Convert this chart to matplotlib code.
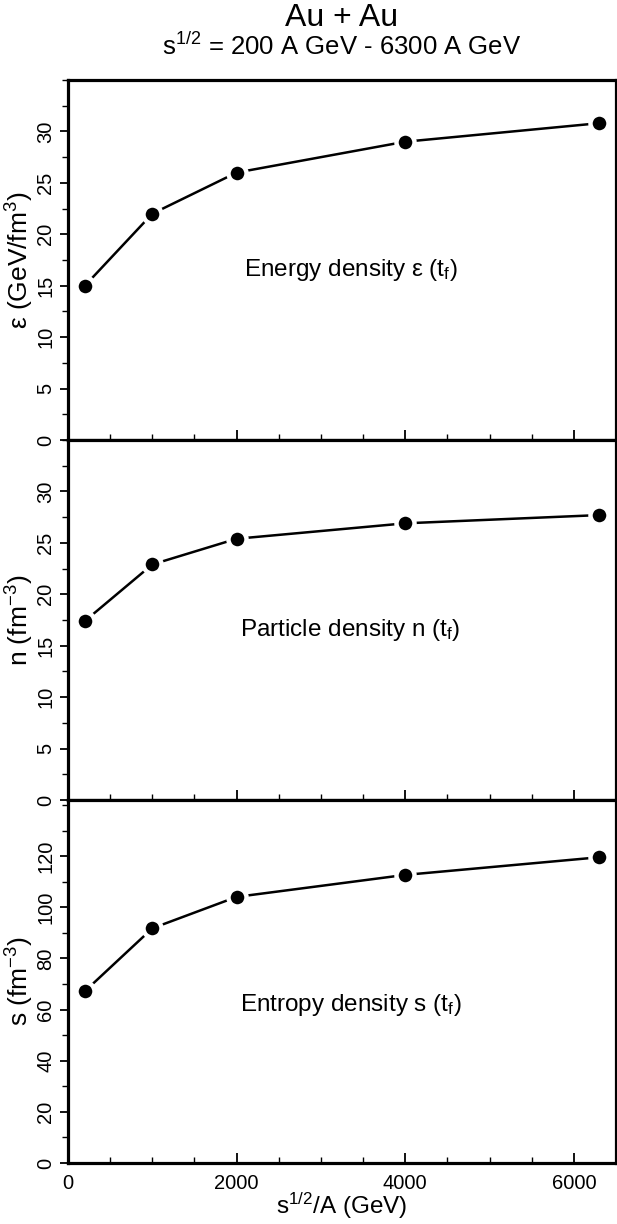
import matplotlib
matplotlib.use("Agg")
import matplotlib.pyplot as plt
from matplotlib.ticker import MultipleLocator, FixedLocator

plt.rcParams['font.family'] = ['Liberation Sans', 'DejaVu Sans']
plt.rcParams['mathtext.fontset'] = 'custom'
plt.rcParams['mathtext.rm'] = 'Liberation Sans'
plt.rcParams['mathtext.it'] = 'Liberation Sans:italic'
plt.rcParams['mathtext.bf'] = 'Liberation Sans:bold'

# ---- data ----
energy = [200, 1000, 2000, 4000, 6300]          # s^1/2 / A (GeV)
eps_vals = [15.0, 22.0, 26.0, 29.0, 30.8]       # GeV/fm^3
n_vals = [17.4, 22.9, 25.4, 26.9, 27.7]         # fm^-3
s_vals = [67.2, 91.8, 104.1, 112.7, 119.6]      # fm^-3

eps_ticks = [0, 5, 10, 15, 20, 25, 30]
n_ticks = [0, 5, 10, 15, 20, 25, 30]
s_ticks = [0, 20, 40, 60, 80, 100, 120]

panels = [
    dict(y=eps_vals, ylim=35, ticks=eps_ticks, minor=2.5,
         ylabel=r'ε (GeV/fm$^3$)', text=r'Energy density ε (t$_\mathrm{f}$)', ty=16.5),
    dict(y=n_vals, ylim=35, ticks=n_ticks, minor=2.5,
         ylabel=r'n (fm$^{-3}$)', text=r'Particle density n (t$_\mathrm{f}$)', ty=16.5),
    dict(y=s_vals, ylim=142, ticks=s_ticks, minor=10,
         ylabel=r's (fm$^{-3}$)', text=r'Entropy density s (t$_\mathrm{f}$)', ty=62),
]

W, H = 617, 1224
fig = plt.figure(figsize=(W / 100, H / 100), dpi=100)
left_px, right_px = 68, 616
bounds = [(80, 440), (440, 800), (800, 1163)]

axes = []
for (top, bot), p in zip(bounds, panels):
    ax = fig.add_axes([left_px / W, (H - bot) / H, (right_px - left_px) / W, (bot - top) / H])
    ax.plot(energy, p['y'], color='black', lw=1.8, marker='o', ms=13,
            mfc='black', mec='white', mew=3.2, zorder=3, clip_on=False)
    ax.set_xlim(0, 6500)
    ax.set_ylim(0, p['ylim'])
    ax.yaxis.set_major_locator(FixedLocator(p['ticks']))
    ax.yaxis.set_minor_locator(MultipleLocator(p['minor']))
    ax.xaxis.set_major_locator(MultipleLocator(2000))
    ax.xaxis.set_minor_locator(MultipleLocator(500))
    for sp in ax.spines.values():
        sp.set_linewidth(2.3)
    ax.tick_params(axis='y', which='major', direction='out', length=6, width=1.3,
                   labelsize=14.5, labelrotation=90, pad=3, left=True, right=False)
    ax.tick_params(axis='y', which='minor', direction='out', length=4, width=1.0,
                   left=True, right=False)
    for lab in ax.get_yticklabels():
        lab.set_va('center')
    ax.tick_params(axis='x', which='major', direction='in', length=7, width=1.3,
                   labelsize=14.5, bottom=True, top=False, pad=8)
    ax.tick_params(axis='x', which='minor', direction='in', length=4, width=1.0,
                   bottom=True, top=False)
    ax.set_ylabel(p['ylabel'], fontsize=19)
    ax.text(3350, p['ty'], p['text'], fontsize=17.5, ha='center', va='center')
    axes.append(ax)

for ax in axes[:-1]:
    ax.tick_params(axis='x', labelbottom=False)

axes[-1].set_xlabel(r's$^{1/2}$/A (GeV)', fontsize=17.5, labelpad=-2)
for ax in axes:
    ax.yaxis.set_label_coords(-0.058, 0.5)

fig.text(342 / W, 1 - 18 / H, 'Au + Au', fontsize=23, ha='center', va='center')
fig.text(342 / W, 1 - 46 / H, r's$^{1/2}$ = 200 A GeV - 6300 A GeV', fontsize=18.5,
         ha='center', va='center')

fig.savefig('out.png', dpi=100)
